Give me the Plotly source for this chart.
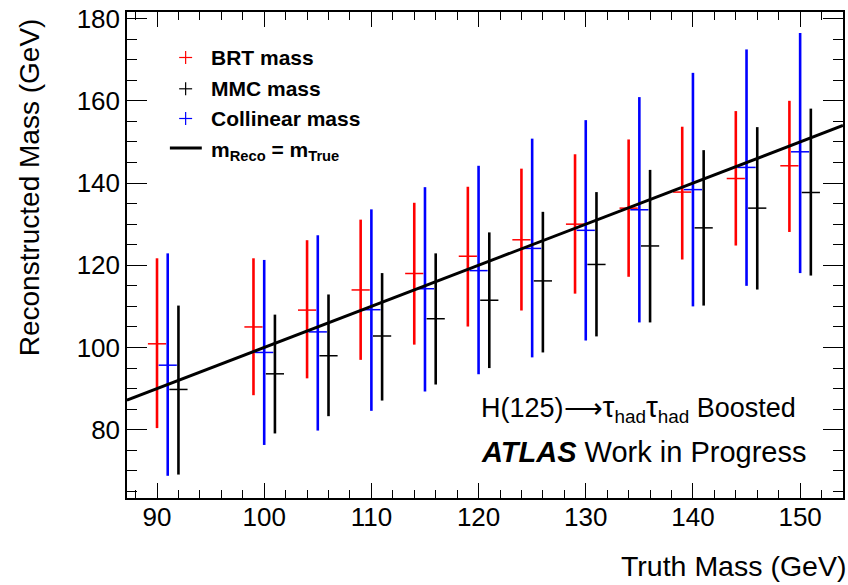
import plotly.graph_objects as go

# ---------------- data ----------------
truth_mass = [91, 100, 105, 110, 115, 120, 125, 130, 135, 140, 145, 150]

brt_mass = [100.9, 105.0, 109.1, 114.0, 118.0, 122.2, 126.2, 130.0, 133.9, 137.8, 141.1, 144.2]
brt_high = [121.7, 121.7, 126.1, 131.1, 135.2, 139.1, 143.5, 147.0, 150.6, 153.7, 157.5, 160.0]
brt_low = [80.4, 88.4, 92.5, 97.0, 100.7, 105.1, 109.0, 113.1, 117.2, 121.4, 124.8, 128.1]

mmc_mass = [89.8, 93.6, 98.0, 102.8, 107.0, 111.5, 116.2, 120.2, 124.7, 129.1, 133.9, 137.7]
mmc_high = [110.2, 108.0, 112.9, 118.1, 122.9, 128.0, 133.0, 137.8, 143.2, 148.0, 153.6, 158.1]
mmc_low = [69.1, 79.1, 83.3, 87.1, 91.0, 95.0, 98.8, 102.7, 106.1, 110.2, 114.1, 117.5]

col_mass = [95.7, 98.8, 103.8, 109.2, 114.3, 118.7, 124.1, 128.5, 133.5, 138.4, 143.8, 147.6]
col_high = [122.9, 121.3, 127.3, 133.6, 139.0, 144.2, 150.8, 155.3, 160.9, 166.8, 172.5, 176.5]
col_low = [68.8, 76.3, 79.8, 84.6, 89.3, 93.5, 97.6, 101.7, 106.1, 110.0, 115.0, 118.1]

x_range = [87.2, 154.0]
y_range = [63.4, 181.6]

# ---------------- style ----------------
FONT = "Liberation Sans, Arial, Helvetica, sans-serif"
W, H = 848, 585
ML, MR, MT, MB = 127, 3, 12, 87
PW, PH = W - ML - MR, H - MT - MB


def px(xp):
    return (xp - ML) / PW


def py(yp):
    return (H - MB - yp) / PH


series = [
    ("BRT mass", brt_mass, brt_high, brt_low, "#ff0000", -1),
    ("Collinear mass", col_mass, col_high, col_low, "#0000ff", 0),
    ("MMC mass", mmc_mass, mmc_high, mmc_low, "#000000", 1),
]

fig = go.Figure()
for name, c, hi, lo, color, off in series:
    fig.add_trace(go.Scatter(
        x=[t + off for t in truth_mass],
        y=c,
        mode="markers",
        name=name,
        marker=dict(symbol="line-ew", size=13, color=color,
                    line=dict(width=1.5, color=color)),
        error_y=dict(type="data", symmetric=False,
                     array=[h - v for h, v in zip(hi, c)],
                     arrayminus=[v - l for v, l in zip(c, lo)],
                     thickness=2.6, width=0, color=color),
        showlegend=False,
    ))

# m_Reco = m_True line
fig.add_trace(go.Scatter(x=x_range, y=x_range, mode="lines",
                         line=dict(color="black", width=3), showlegend=False))

# ---------------- legend (manual) ----------------
shapes = []
annotations = []
legend_items = [("BRT mass", "#ff0000", 57.5), ("MMC mass", "#000000", 88.8),
                ("Collinear mass", "#0000ff", 118.5)]
for label, color, yc in legend_items:
    shapes.append(dict(type="line", xref="paper", yref="paper",
                       x0=px(179.3), x1=px(192.3), y0=py(yc), y1=py(yc),
                       line=dict(color=color, width=1.2)))
    shapes.append(dict(type="line", xref="paper", yref="paper",
                       x0=px(185.8), x1=px(185.8), y0=py(yc - 6.5), y1=py(yc + 6.5),
                       line=dict(color=color, width=1.2)))
    annotations.append(dict(xref="paper", yref="paper", x=px(209), y=py(yc),
                            xanchor="left", yanchor="middle", showarrow=False,
                            text="<b>%s</b>" % label,
                            font=dict(family=FONT, size=21, color="black")))
shapes.append(dict(type="line", xref="paper", yref="paper",
                   x0=px(170), x1=px(202), y0=py(148), y1=py(148),
                   line=dict(color="black", width=3)))
annotations.append(dict(xref="paper", yref="paper", x=px(209), y=py(151),
                        xanchor="left", yanchor="middle", showarrow=False,
                        text="<b>m<sub>Reco</sub> = m<sub>True</sub></b>",
                        font=dict(family=FONT, size=21, color="black")))

# ---------------- labels ----------------
annotations.append(dict(xref="paper", yref="paper", x=px(480), y=py(408),
                        xanchor="left", yanchor="middle", showarrow=False,
                        text="H(125)⟶<span style='font-size:30px'>τ</span><sub>had</sub>"
                             "<span style='font-size:30px'>τ</span><sub>had</sub> Boosted",
                        font=dict(family=FONT, size=27, color="black")))
annotations.append(dict(xref="paper", yref="paper", x=px(480), y=py(452),
                        xanchor="left", yanchor="middle", showarrow=False,
                        text="<b><i>ATLAS</i></b> Work in Progress",
                        font=dict(family=FONT, size=29, color="black")))
annotations.append(dict(xref="paper", yref="paper", x=px(850), y=py(566),
                        xanchor="right", yanchor="middle", showarrow=False,
                        text="Truth Mass (GeV)",
                        font=dict(family=FONT, size=28.5, color="black")))
annotations.append(dict(xref="paper", yref="paper", x=px(30), y=py(16),
                        xanchor="center", yanchor="top", showarrow=False,
                        textangle=-90, text="Reconstructed Mass (GeV)",
                        font=dict(family=FONT, size=28, color="black")))

axis_common = dict(showgrid=False, zeroline=False, showline=True, linecolor="black",
                   linewidth=1.5, mirror="ticks", ticks="inside", tickcolor="black",
                   tickwidth=1.3, tickfont=dict(family=FONT, size=26, color="black"))

fig.update_layout(
    width=W, height=H,
    margin=dict(l=ML, r=MR, t=MT, b=MB),
    paper_bgcolor="white", plot_bgcolor="white",
    xaxis=dict(range=x_range, tick0=90, dtick=10, ticklen=15, ticklabelstandoff=-5,
               minor=dict(dtick=2, ticklen=8, ticks="inside", tickcolor="black", tickwidth=1.3),
               **axis_common),
    yaxis=dict(range=y_range, tick0=80, dtick=20, ticklen=20,
               minor=dict(dtick=5, ticklen=10, ticks="inside", tickcolor="black", tickwidth=1.3),
               **axis_common),
    shapes=shapes,
    annotations=annotations,
)

fig.write_html("out.html")
